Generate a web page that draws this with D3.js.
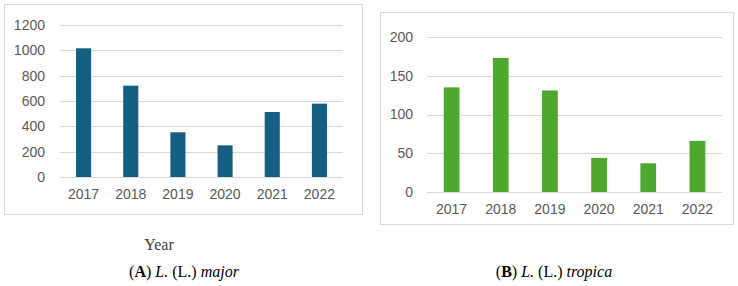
<!DOCTYPE html>
<html>
<head>
<meta charset="utf-8">
<script src="https://cdn.jsdelivr.net/npm/d3@7"></script>
<style>
  body { margin: 0; background: #fff; }
  svg text { font-family: "Liberation Sans", Arial, sans-serif; }
</style>
</head>
<body>
<div id="chart"></div>
<script>
// data
const years = ["2017", "2018", "2019", "2020", "2021", "2022"];
const majorCases = [1016, 721, 353, 250, 513, 579];
const tropicaCases = [135, 173, 131, 44, 37, 66];
const majorTicks = [0, 200, 400, 600, 800, 1000, 1200];
const tropicaTicks = [0, 50, 100, 150, 200];

const svg = d3.select("#chart").append("svg")
  .attr("width", 738)
  .attr("height", 286);

function drawPanel(cfg) {
  let g = svg.append("g");

  // outer frame
  g.append("rect")
    .attr("x", cfg.frame[0] + 0.5).attr("y", cfg.frame[1] + 0.5)
    .attr("width", cfg.frame[2]).attr("height", cfg.frame[3])
    .attr("fill", "#fff")
    .attr("stroke", "#d9d9d9")
    .attr("stroke-width", 1);

  let x = d3.scaleBand()
    .domain(years)
    .range([cfg.left, cfg.right])
    .paddingInner(0.68)
    .paddingOuter(0.34);

  let y = d3.scaleLinear()
    .domain([0, d3.max(cfg.ticks)])
    .range([cfg.bottom, cfg.top]);

  // gridlines
  g.append("g")
    .selectAll("line")
    .data(cfg.ticks)
    .join("line")
    .attr("x1", cfg.left).attr("x2", cfg.right)
    .attr("y1", d => Math.round(y(d)) + 0.5)
    .attr("y2", d => Math.round(y(d)) + 0.5)
    .attr("stroke", "#d9d9d9")
    .attr("stroke-width", 1);

  // bars
  g.append("g")
    .selectAll("rect")
    .data(cfg.values)
    .join("rect")
    .attr("x", (d, i) => x(years[i]))
    .attr("y", d => y(d))
    .attr("width", x.bandwidth())
    .attr("height", d => y(0) - y(d))
    .attr("fill", cfg.color);

  // y labels
  let yAxis = d3.axisLeft(y)
    .tickValues(cfg.ticks)
    .tickFormat(d3.format("d"))
    .tickSize(0)
    .tickPadding(cfg.labelPad);
  let ya = g.append("g")
    .attr("transform", "translate(" + cfg.left + ",0)")
    .call(yAxis);
  ya.select(".domain").remove();
  ya.selectAll("text")
    .attr("font-size", 14)
    .attr("fill", "#595959")
    .attr("font-family", "Liberation Sans, Arial, sans-serif");

  // x labels
  let xAxis = d3.axisBottom(x).tickSize(0).tickPadding(12);
  let xa = g.append("g")
    .attr("transform", "translate(0," + cfg.bottom + ")")
    .call(xAxis);
  xa.select(".domain").remove();
  xa.selectAll("text")
    .attr("font-size", 14)
    .attr("fill", "#595959")
    .attr("font-family", "Liberation Sans, Arial, sans-serif");

  // caption
  let cap = svg.append("text")
    .attr("x", cfg.capX).attr("y", 277)
    .attr("text-anchor", "middle")
    .attr("font-size", 16)
    .attr("fill", "#000")
    .style("font-family", "Liberation Serif, Times New Roman, serif");
  cap.append("tspan").text("(");
  cap.append("tspan").attr("font-weight", "bold").text(cfg.letter);
  cap.append("tspan").text(") ");
  cap.append("tspan").attr("font-style", "italic").text("L.");
  cap.append("tspan").text(" (L.) ");
  cap.append("tspan").attr("font-style", "italic").text(cfg.species);
}

drawPanel({
  frame: [4, 4, 358, 210],
  left: 60, right: 343, top: 25, bottom: 177,
  ticks: majorTicks, values: majorCases,
  color: "#156082", labelPad: 15,
  capX: 184, letter: "A", species: "major"
});

drawPanel({
  frame: [380, 12, 353, 212],
  left: 427, right: 722, top: 37, bottom: 192,
  ticks: tropicaTicks, values: tropicaCases,
  color: "#4ea72e", labelPad: 14,
  capX: 554, letter: "B", species: "tropica"
});

// axis title under panel A
svg.append("text")
  .attr("x", 159).attr("y", 250)
  .attr("text-anchor", "middle")
  .attr("font-size", 16)
  .attr("fill", "#404040")
  .style("font-family", "Liberation Serif, Times New Roman, serif")
  .text("Year");
</script>
</body>
</html>
